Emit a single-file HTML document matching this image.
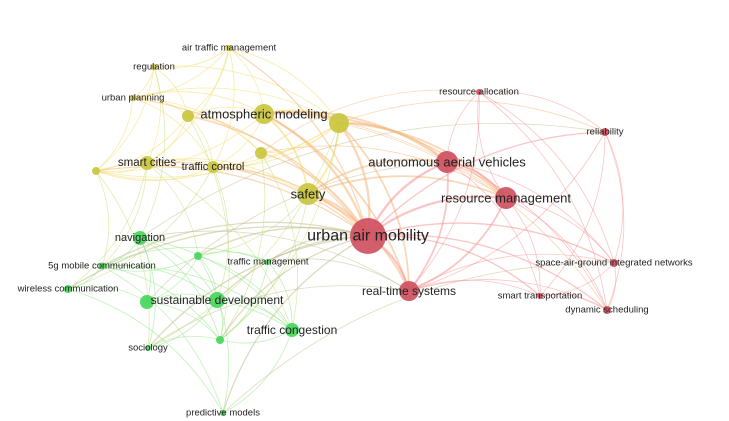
<!DOCTYPE html>
<html><head><meta charset="utf-8"><style>
html,body{margin:0;padding:0;background:#fff;width:729px;height:421px;overflow:hidden}
svg{display:block}
text{font-family:"Liberation Sans","DejaVu Sans",sans-serif;fill:#222;text-anchor:middle;dominant-baseline:central}
</style></head><body>
<svg id="s" width="729" height="421" viewBox="0 0 729 421">
<g id="e" fill="none"></g><g id="n"></g><g id="t"></g>
</svg>
<script>
var N=[
[229,48,3,0,"air traffic management",9.5],
[154,67,3,0,"regulation",9.5],
[133,98,3,0,"urban planning",9.5],
[188,116,6,0,"",0],
[264,114,10,0,"atmospheric modeling",13],
[339,123,10,0,"",0],
[261,153,6,0,"",0],
[147,163,7,0,"smart cities",11.5],
[213,167,6,0,"traffic control",11],
[96,171,4,0,"",0],
[308,194,11,0,"safety",13],
[140,238,7,1,"navigation",11],
[198,256,4,1,"",0],
[102,266,3.5,1,"5g mobile communication",9.5],
[268,262,3,1,"traffic management",9.5],
[68,289,4,1,"wireless communication",9.5],
[147,302,7,1,"",0],
[217,300,8,1,"sustainable development",12],
[292,330,7,1,"traffic congestion",12],
[148,348,3,1,"sociology",9.5],
[220,340,4,1,"",0],
[223,413,3,1,"predictive models",9.5],
[368,236,18,2,"urban air mobility",16],
[447,162,11,2,"autonomous aerial vehicles",13],
[506,198,11,2,"resource management",13],
[479,92,3,2,"resource allocation",9.5],
[605,132,4,2,"reliability",9.5],
[409,291,10,2,"real-time systems",12],
[614,263,4,2,"space-air-ground integrated networks",9.5],
[540,296,3,2,"smart transportation",9.5],
[607,310,4,2,"dynamic scheduling",9.5]
];
var NC=["#c9c53f","#47d65c","#cf5060"];
var EC=[[242,218,100],[140,230,130],[246,150,150]];
var eg=document.getElementById('e'),ng=document.getElementById('n'),tg=document.getElementById('t');
var ns="http://www.w3.org/2000/svg";
function h(i,j){var x=Math.sin(i*12.9898+j*78.233)*43758.5453;return x-Math.floor(x);}
for(var i=0;i<N.length;i++)for(var j=i+1;j<N.length;j++){
 var a=N[i],b=N[j],same=a[3]==b[3];
 var big=(a[2]+b[2])/20;
 var dx=b[0]-a[0],dy=b[1]-a[1],dist=Math.sqrt(dx*dx+dy*dy);
 var p=same?0.4+big*0.3:0.08+big*0.3;
 if(same&&a[3]==2)p=0.85;
 if(!same)p*=Math.max(0.2,1-dist/450);
 if(a[2]>=10&&b[2]>=10)p=1;
 if(i==22||j==22)p=Math.max(p,0.65);
 if(h(i,j)>p)continue;
 var c1=EC[a[3]],c2=EC[b[3]];
 var c="rgb("+((c1[0]+c2[0])>>1)+","+((c1[1]+c2[1])>>1)+","+((c1[2]+c2[2])>>1)+")";
 var mx=(a[0]+b[0])/2+dy*0.2,my=(a[1]+b[1])/2-dx*0.2;
 var path=document.createElementNS(ns,"path");
 path.setAttribute("d","M"+a[0]+","+a[1]+" Q"+mx+","+my+" "+b[0]+","+b[1]);
 path.setAttribute("stroke",c);
 var w=0.8;
 if(a[2]>=10&&b[2]>=10)w=1.8;
 if(i==22||j==22)w+=0.5;
 path.setAttribute("stroke-width",w.toFixed(2));
 path.setAttribute("stroke-opacity","0.55");
 eg.appendChild(path);
}
N.forEach(function(d){
 var c=document.createElementNS(ns,"circle");
 c.setAttribute("cx",d[0]);c.setAttribute("cy",d[1]);c.setAttribute("r",d[2]);
 c.setAttribute("fill",NC[d[3]]);c.setAttribute("fill-opacity","0.92");
 ng.appendChild(c);
 if(d[4]){var t=document.createElementNS(ns,"text");
 t.setAttribute("x",d[0]);t.setAttribute("y",d[1]);t.setAttribute("font-size",d[5]);
 t.textContent=d[4];tg.appendChild(t);}
});
</script>
</body></html>
